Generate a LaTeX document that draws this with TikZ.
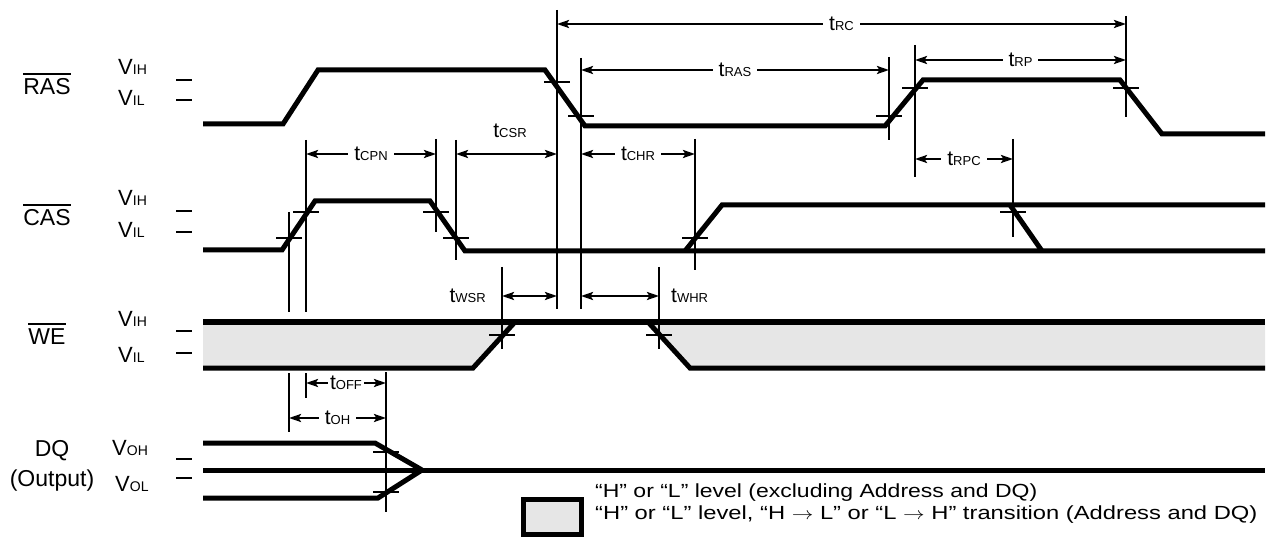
\documentclass[tikz,border=0pt]{standalone}
\usepackage{fontspec}
\setmainfont{Liberation Sans}
\usetikzlibrary{arrows.meta}
\definecolor{lg}{HTML}{E6E6E6}
\newcommand{\sbs}[1]{{\fontsize{13}{13}\selectfont #1}}
\newcommand{\tm}[1]{{\fontsize{21}{21}\selectfont t\sbs{#1}}}
\newcommand{\vv}[1]{{\fontsize{22}{22}\selectfont V\fontsize{14}{14}\selectfont #1}}
\begin{document}
\begin{tikzpicture}[x=1pt,y=-1pt,
  sig/.style={line width=5pt,line join=miter},
  thn/.style={line width=2.4pt},
  dim/.style={line width=2.4pt,{Stealth[length=12pt,width=8pt,inset=2.5pt]}-{Stealth[length=12pt,width=8pt,inset=2.5pt]}},
  lab/.style={fill=white,inner xsep=6pt,inner ysep=1pt},
  big/.style={font=\fontsize{23}{23}\selectfont,inner sep=0pt},
  lvl/.style={anchor=west,inner sep=0pt},
  leg/.style={anchor=west,inner sep=0pt,font=\fontsize{19}{19}\selectfont}]
\path[use as bounding box] (0,0) rectangle (1278,540);
% signal labels
\node[big] (ras) at (47,87) {RAS};
\draw[line width=2pt] ([yshift=5pt]ras.north west) -- ([yshift=5pt]ras.north east);
\node[big] (cas) at (47,218) {CAS};
\draw[line width=2pt] ([yshift=5pt]cas.north west) -- ([yshift=5pt]cas.north east);
\node[big] (we) at (47,337) {WE};
\draw[line width=2pt] ([yshift=5pt]we.north west) -- ([yshift=5pt]we.north east);
\node[big] (dq) at (52,451) {DQ};
\node[big] (out) at (52,481) {(Output)};
% level labels
\node[lvl] (rvih) at (118,67) {\vv{IH}};
\node[lvl] (rvil) at (118,98) {\vv{IL}};
\node[lvl] (cvih) at (118,198) {\vv{IH}};
\node[lvl] (cvil) at (118,230) {\vv{IL}};
\node[lvl] (wvih) at (118,319) {\vv{IH}};
\node[lvl] (wvil) at (118,355) {\vv{IL}};
\node[lvl] (dvoh) at (112,448) {\vv{OH}};
\node[lvl] (dvol) at (115,484) {\vv{OL}};
\foreach \y in {80,100,211,232,331,353,459,478} \draw[thn] (176,\y) -- (192,\y);
% WE grey regions
\fill[lg] (203,322) -- (515,322) -- (473,368) -- (203,368) -- cycle;
\fill[lg] (648,322) -- (1265,322) -- (1265,368) -- (690,368) -- cycle;
% signals
\draw[sig] (203,124) -- (283,124) -- (318,70) -- (545,70) -- (585,126) -- (885,126) -- (923,80) -- (1120,80) -- (1162,134) -- (1265,134);
\draw[sig] (203,250) -- (282,250) -- (315,201) -- (430,201) -- (465,251) -- (1265,251);
\draw[sig] (685,251) -- (722,205) -- (1265,205);
\draw[sig] (1010,205) -- (1042,251);
\draw[sig] (203,322) -- (1265,322);
\draw[sig] (203,368) -- (473,368) -- (515,322);
\draw[sig] (648,322) -- (690,368) -- (1265,368);
\draw[sig] (203,443) -- (375,443) -- (422,470);
\draw[sig] (203,498) -- (378,498) -- (422,470);
\draw[sig] (203,470) -- (1265,470);
% reference verticals
\foreach \x/\a/\b in {289/212/312, 289/373/432, 306/140/312, 306/373/398, 436/139/232, 456/140/260, 502/267/349, 557/10/309, 581/58/309, 659/267/349, 695/139/270, 889/57/140, 915/45/177, 1013/139/237, 1126/16/117, 386/372/512}
  \draw[thn] (\x,\a) -- (\x,\b);
% crossing marks
\foreach \x/\y in {557/82, 581/116, 889/116, 915/88, 1126/88, 289/238, 306/212, 436/212, 456/238, 695/238, 1013/212, 502/335, 659/335, 386/452, 386/492}
  \draw[thn] (\x-13,\y) -- (\x+13,\y);
% timing arrows
\draw[dim] (557,24) -- (1126,24) node[midway,lab] (trc) {\tm{RC}};
\draw[dim] (581,70) -- (889,70) node[midway,lab] (tras) {\tm{RAS}};
\draw[dim] (915,60) -- (1126,60) node[midway,lab] (trp) {\tm{RP}};
\draw[dim] (306,154) -- (436,154) node[midway,lab] (tcpn) {\tm{CPN}};
\draw[dim] (456,154) -- (557,154);
\node[inner sep=0pt] (tcsr) at (510,131) {\tm{CSR}};
\draw[dim] (581,154) -- (695,154) node[midway,lab] (tchr) {\tm{CHR}};
\draw[dim] (915,159) -- (1013,159) node[midway,lab] (trpc) {\tm{RPC}};
\draw[dim] (502,296) -- (557,296);
\node[anchor=east,inner sep=0pt] (twsr) at (486,296) {\tm{WSR}};
\draw[dim] (581,296) -- (659,296);
\node[anchor=west,inner sep=0pt] (twhr) at (671,296) {\tm{WHR}};
\draw[dim] (306,383) -- (386,383) node[midway,lab,inner xsep=2pt] (toff) {\tm{OFF}};
\draw[dim] (289,418) -- (386,418) node[midway,lab] (toh) {\tm{OH}};
% legend
\draw[line width=5pt,fill=lg] (523.5,499.5) rectangle (581.5,534.5);
\node[leg] (l1) at (595,493) {\scalebox{1.21}[1]{“H” or “L” level (excluding Address and DQ)}};
\node[leg] (l2) at (595,515) {\scalebox{1.25}[1]{“H” or “L” level, “H $\rightarrow$ L” or “L $\rightarrow$ H” transition (Address and DQ)}};
\end{tikzpicture}
\end{document}
